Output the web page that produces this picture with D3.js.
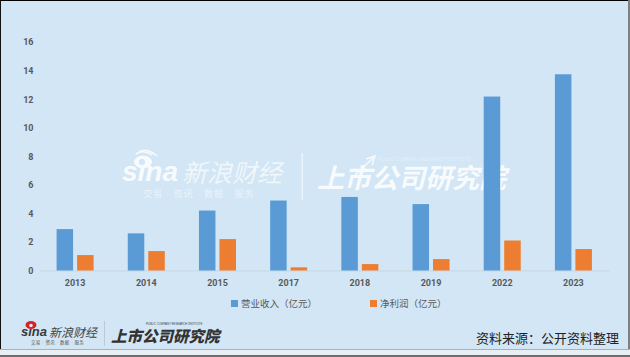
<!DOCTYPE html>
<html>
<head>
<meta charset="utf-8">
<script src="https://cdn.jsdelivr.net/npm/d3@7"></script>
<style>
  html, body { margin: 0; padding: 0; background: #d2e6f5; overflow: hidden; }
  svg { display: block; }
  text { font-family: "Liberation Sans", "Noto Sans CJK SC", sans-serif; }
</style>
</head>
<body>
<svg id="chart"></svg>
<script>
const years = ["2013", "2014", "2015", "2017", "2018", "2019", "2022", "2023"];
const revenue = [2.9, 2.6, 4.2, 4.9, 5.15, 4.65, 12.18, 13.74];
const profit = [1.08, 1.36, 2.2, 0.22, 0.45, 0.8, 2.1, 1.5];
const yTicks = [0, 2, 4, 6, 8, 10, 12, 14, 16];
const seriesNames = ["营业收入（亿元）", "净利润（亿元）"];
const seriesColors = ["#5b9bd5", "#ed7d31"];

const width = 630, height = 357;
const margin = { top: 42, right: 21, bottom: 86.5, left: 39.5 };

const svg = d3.select("#chart").attr("width", width).attr("height", height);

svg.append("rect").attr("width", width).attr("height", height).attr("fill", "#d2e6f5");

// big watermark goes under the chart, the tall bars cover it
const mark = svg.append("g").attr("fill", "#fff").attr("opacity", 0.85);
mark.append("text").attr("x", 122).attr("y", 181)
  .style("font-size", "28px").style("font-weight", "700").style("font-style", "italic")
  .style("font-family", "Liberation Sans, sans-serif").text("sina");
mark.append("text").attr("x", 182).attr("y", 182)
  .style("font-size", "25px").style("font-style", "italic").attr("opacity", 0.8).text("新浪财经");
mark.append("text").attr("x", 143).attr("y", 197)
  .style("font-size", "9px").style("letter-spacing", "0.9px").attr("opacity", 0.7).text("交易 · 资讯 · 数据 · 服务");
mark.append("rect").attr("x", 301.5).attr("y", 153).attr("width", 1.5).attr("height", 47).attr("opacity", 0.7);
mark.append("text").attr("x", 317).attr("y", 188)
  .style("font-size", "27px").style("font-weight", "700").style("font-style", "italic").text("上市公司研究院");
mark.append("text").attr("x", 378).attr("y", 161)
  .style("font-size", "4.6px").attr("opacity", 0.5).text("PUBLIC COMPANY RESEARCH INSTITUTE");
mark.append("path").attr("d", "M352,178L373,158M366,159L375,156L372,165")
  .attr("fill", "none").attr("stroke", "#fff").attr("stroke-width", 1.5);
// sina eye with its lashes
mark.append("ellipse").attr("cx", 143).attr("cy", 162).attr("rx", 9).attr("ry", 6.5);
mark.append("circle").attr("cx", 142).attr("cy", 162).attr("r", 3).attr("fill", "#d2e6f5");
mark.append("path").attr("d", "M136,154Q143,149 152,155M139,152Q146,147 157,156")
  .attr("fill", "none").attr("stroke", "#fff").attr("stroke-width", 1.6);

const innerW = width - margin.left - margin.right;
const innerH = height - margin.top - margin.bottom;

const chart = svg.append("g").attr("transform", `translate(${margin.left},${margin.top})`);

const x = d3.scaleBand().domain(years).range([0, innerW]).paddingInner(0).paddingOuter(0);
const xSeries = d3.scaleBand().domain([0, 1]).range([x.bandwidth() * 0.24, x.bandwidth() * 0.76]).paddingInner(0.195);
const y = d3.scaleLinear().domain([0, 16]).range([innerH, 0]);

// axes
const xAxis = d3.axisBottom(x).tickSize(0).tickPadding(9);
const xAxisG = chart.append("g").attr("transform", `translate(0,${innerH})`).call(xAxis);
xAxisG.select(".domain").attr("stroke", "#c9d6e0");
xAxisG.selectAll("text")
  .style("font-size", "9px").style("font-weight", "700")
  .style("font-family", "Roboto, sans-serif").attr("fill", "#595959");

const yAxis = d3.axisLeft(y).tickValues(yTicks).tickSize(0).tickPadding(6);
const yAxisG = chart.append("g").call(yAxis);
yAxisG.select(".domain").remove();
yAxisG.selectAll("text")
  .style("font-size", "9px").style("font-weight", "700")
  .style("font-family", "Roboto, sans-serif").attr("fill", "#595959");

// bars
[revenue, profit].forEach((vals, s) => {
  chart.selectAll(".bar" + s)
    .data(vals)
    .join("rect")
    .attr("class", "bar" + s)
    .attr("x", (d, i) => x(years[i]) + xSeries(s))
    .attr("y", d => y(d))
    .attr("width", xSeries.bandwidth())
    .attr("height", d => innerH - y(d))
    .attr("fill", seriesColors[s]);
});

// legend
const legendX = [231, 370];
seriesNames.forEach((name, i) => {
  svg.append("rect").attr("x", legendX[i]).attr("y", 300).attr("width", 7).attr("height", 7)
    .attr("fill", seriesColors[i]);
  svg.append("text").attr("x", legendX[i] + 10).attr("y", 307)
    .style("font-size", "9.5px").attr("fill", "#595959").text(name);
});

// small logos at the foot
const foot = svg.append("g");
foot.append("text").attr("x", 21).attr("y", 336)
  .style("font-size", "13px").style("font-weight", "700").style("font-style", "italic")
  .style("font-family", "Liberation Sans, sans-serif").attr("fill", "#3a3a3a").text("sina");
foot.append("ellipse").attr("cx", 31).attr("cy", 325).attr("rx", 5.5).attr("ry", 4).attr("fill", "#d6232a");
foot.append("circle").attr("cx", 31).attr("cy", 325.5).attr("r", 1.8).attr("fill", "#d2e6f5");
foot.append("text").attr("x", 49).attr("y", 337)
  .style("font-size", "12px").style("font-style", "italic").attr("fill", "#444").text("新浪财经");
foot.append("text").attr("x", 31).attr("y", 344)
  .style("font-size", "4.5px").style("letter-spacing", "0.3px").attr("fill", "#555").text("交易 · 资讯 · 数据 · 服务");
foot.append("rect").attr("x", 104).attr("y", 321).attr("width", 1).attr("height", 25).attr("fill", "#bccad6");
foot.append("text").attr("x", 111).attr("y", 342)
  .style("font-size", "15.5px").style("font-weight", "900").style("font-style", "italic").attr("fill", "#333").text("上市公司研究院");
foot.append("text").attr("x", 146).attr("y", 325)
  .style("font-size", "2.8px").attr("fill", "#444").text("PUBLIC COMPANY RESEARCH INSTITUTE");

// source note
svg.append("text").attr("x", 619).attr("y", 343).attr("text-anchor", "end")
  .style("font-size", "13px").attr("fill", "#222").text("资料来源：公开资料整理");

// picture frame
svg.append("rect").attr("x", 0).attr("y", 0).attr("width", width).attr("height", 1).attr("fill", "#000");
svg.append("rect").attr("x", 0).attr("y", 0).attr("width", 1).attr("height", height).attr("fill", "#111");
svg.append("rect").attr("x", 628).attr("y", 0).attr("width", 2).attr("height", height).attr("fill", "#808080");
svg.append("rect").attr("x", 0).attr("y", 349).attr("width", width).attr("height", 1).attr("fill", "#a9b1b8");
svg.append("rect").attr("x", 0).attr("y", 350).attr("width", width).attr("height", 5).attr("fill", "#e9eef2");
svg.append("rect").attr("x", 0).attr("y", 355).attr("width", width).attr("height", 2).attr("fill", "#6e6e6e");
</script>
</body>
</html>
